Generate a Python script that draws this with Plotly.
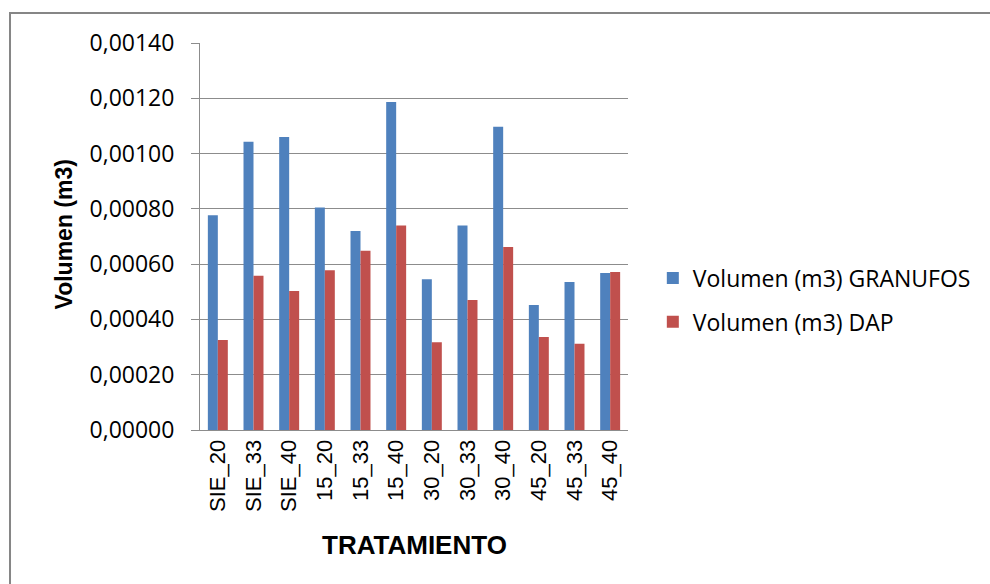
import plotly.graph_objects as go

# Treatment categories and measured volumes (m3)
tratamientos = ["SIE_20", "SIE_33", "SIE_40", "15_20", "15_33", "15_40",
                "30_20", "30_33", "30_40", "45_20", "45_33", "45_40"]
vol_granufos = [0.000777, 0.001043, 0.001060, 0.000805, 0.000720, 0.001187,
                0.000545, 0.000740, 0.001097, 0.000452, 0.000535, 0.000568]
vol_dap = [0.000326, 0.000558, 0.000503, 0.000578, 0.000648, 0.000740,
           0.000317, 0.000470, 0.000662, 0.000336, 0.000312, 0.000572]

y_ticks = [0.0, 0.0002, 0.0004, 0.0006, 0.0008, 0.0010, 0.0012, 0.0014]

fig = go.Figure()
fig.add_trace(go.Bar(name="Volumen (m3) GRANUFOS", x=tratamientos, y=vol_granufos,
                     legendgroup="granufos",
                     marker=dict(color="#4F81BD", line=dict(width=0))))
fig.add_trace(go.Bar(name="Volumen (m3) DAP", x=tratamientos, y=vol_dap,
                     legendgroup="dap",
                     marker=dict(color="#C0504D", line=dict(width=0))))

grid = "#8C8C8C"
fig.update_layout(
    width=990, height=584,
    margin=dict(l=200, r=362, t=43, b=154),
    paper_bgcolor="white", plot_bgcolor="white",
    barmode="group", bargap=0.44, bargroupgap=0,
    separators=",.",
    font=dict(family="Open Sans, Noto Sans, sans-serif", color="#000000"),
    showlegend=True,
    legend=dict(x=1.058, y=0.336, xanchor="left", yanchor="middle",
                font=dict(size=23, family="Open Sans, sans-serif"),
                traceorder="grouped", tracegroupgap=11,
                bgcolor="rgba(0,0,0,0)"),
    xaxis=dict(
        showline=True, linecolor=grid, linewidth=1, ticks="",
        tickangle=-90, tickfont=dict(size=22, family="Liberation Sans, Arial, sans-serif"),
        showgrid=False, automargin=False,
    ),
    yaxis=dict(
        range=[0, 0.0014], tickvals=y_ticks, tickformat=".5f",
        showline=True, linecolor=grid, linewidth=1,
        ticks="outside", ticklen=8, tickcolor=grid,
        ticklabelstandoff=12,
        showgrid=True, gridcolor=grid, gridwidth=1,
        zeroline=False,
        tickfont=dict(size=23, family="Open Sans, sans-serif"),
        automargin=False,
    ),
    annotations=[
        dict(text="<b>TRATAMIENTO</b>", xref="paper", yref="paper",
             x=0.5, y=-0.298, xanchor="center", yanchor="middle", showarrow=False,
             font=dict(size=26, family="Liberation Sans, Arial, sans-serif")),
        dict(text="<b>Volumen (m3)</b>", xref="paper", yref="paper",
             x=-0.318, y=0.505, xanchor="center", yanchor="middle", showarrow=False,
             textangle=-90,
             font=dict(size=23, family="Liberation Sans, Arial, sans-serif")),
    ],
    shapes=[
        dict(type="rect", xref="paper", yref="paper",
             x0=-0.4439, x1=2.0, y0=-0.6, y1=1.0775,
             line=dict(color="#868686", width=2), fillcolor="rgba(0,0,0,0)",
             layer="below"),
    ],
)

fig.write_html("out.html")
